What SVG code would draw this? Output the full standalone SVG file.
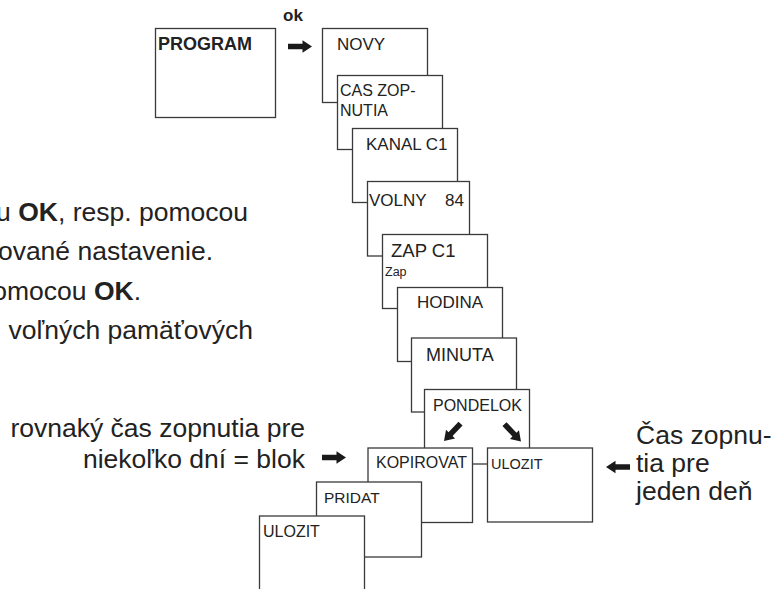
<svg xmlns="http://www.w3.org/2000/svg" xmlns:xlink="http://www.w3.org/1999/xlink" width="779" height="589" viewBox="0 0 779 589">
<style>
  .box { fill: #ffffff; stroke: #3a3a3a; stroke-width: 1.3; }
  .t { font-family: "Liberation Sans", Arial, Helvetica, sans-serif; fill: #222222; }
  .big { font-family: "Liberation Sans", Arial, Helvetica, sans-serif; fill: #222222; font-size: 26.5px; }
  .b { font-weight: bold; }
  .arr { fill: #1a1a1a; }
</style>
<defs>
  <path id="fatArrow" d="M -24,-2.8 L -9.5,-2.8 L -9.5,-6.2 L 0,0 L -9.5,6.2 L -9.5,2.8 L -24,2.8 Z"/>
</defs>
<rect width="779" height="589" fill="#ffffff"/>

<g id="text-left">
  <text class="big" x="248" y="221" text-anchor="end">u <tspan class="b">OK</tspan>, resp. pomocou</text>
  <text class="big" x="213" y="260" text-anchor="end">ované nastavenie.</text>
  <text class="big" x="141" y="300" text-anchor="end">omocou <tspan class="b">OK</tspan>.</text>
  <text class="big" x="253" y="339" text-anchor="end">voľných pamäťových</text>
</g>

<g id="node-program">
  <rect class="box" x="155.5" y="28.5" width="120" height="89"/>
  <text class="t b" x="158" y="50" font-size="18">PROGRAM</text>
</g>
<text class="t b" x="283" y="20.5" font-size="17">ok</text>

<g id="node-novy">
  <rect class="box" x="322.5" y="28.5" width="105" height="74"/>
  <text class="t" x="337" y="50" font-size="17">NOVY</text>
</g>
<g id="node-cas">
  <rect class="box" x="337.5" y="75.5" width="105" height="74"/>
  <text class="t" x="340" y="96" font-size="16">CAS ZOP-</text>
  <text class="t" x="340" y="115.5" font-size="16">NUTIA</text>
</g>
<g id="node-kanal">
  <rect class="box" x="352.5" y="128.5" width="105" height="74"/>
  <text class="t" x="366" y="150" font-size="17">KANAL C1</text>
</g>
<g id="node-volny">
  <rect class="box" x="367.5" y="181.5" width="102" height="74.5"/>
  <text class="t" x="369" y="206" font-size="17">VOLNY<tspan x="445">84</tspan></text>
</g>
<g id="node-zap">
  <rect class="box" x="382.5" y="234.5" width="105" height="74"/>
  <text class="t" x="391" y="256.5" font-size="18.5">ZAP C1</text>
  <text class="t" x="385" y="276" font-size="12.5">Zap</text>
</g>
<g id="node-hodina">
  <rect class="box" x="397.5" y="287.5" width="105" height="74"/>
  <text class="t" x="417" y="308" font-size="17">HODINA</text>
</g>
<g id="node-minuta">
  <rect class="box" x="411.5" y="338" width="105" height="74"/>
  <text class="t" x="426" y="361" font-size="18">MINUTA</text>
</g>
<g id="node-pondelok">
  <rect class="box" x="424.5" y="389.5" width="105" height="74.5"/>
  <text class="t" x="433" y="410.7" font-size="16">PONDELOK</text>
</g>
<g id="node-ulozit-right">
  <rect class="box" x="487.5" y="448" width="105" height="74"/>
  <text class="t" x="491" y="469" font-size="14.5">ULOZIT</text>
</g>
<g id="node-kopirovat">
  <rect class="box" x="368" y="448" width="104.5" height="74.5"/>
  <text class="t" x="376" y="468.3" font-size="16">KOPIROVAT</text>
</g>
<g id="node-pridat">
  <rect class="box" x="316.5" y="482" width="105" height="75"/>
  <text class="t" x="324" y="502.7" font-size="15.5">PRIDAT</text>
</g>
<g id="node-ulozit-left">
  <rect class="box" x="259.5" y="516" width="105" height="80"/>
  <text class="t" x="263" y="537.3" font-size="16">ULOZIT</text>
</g>

<g id="text-block">
  <text class="big" x="305" y="437" text-anchor="end">rovnaký čas zopnutia pre</text>
  <text class="big" x="305" y="468" text-anchor="end">niekoľko dní = blok</text>
</g>
<g id="text-day">
  <text class="big" x="636" y="444">Čas zopnu-</text>
  <text class="big" x="636" y="472">tia pre</text>
  <text class="big" x="636" y="500">jeden deň</text>
</g>

<g id="connectors">
  <use xlink:href="#fatArrow" class="arr" transform="translate(312,46.5)"/>
  <use xlink:href="#fatArrow" class="arr" transform="translate(346,457.5)"/>
  <use xlink:href="#fatArrow" class="arr" transform="translate(606,467) rotate(180)"/>
  <use xlink:href="#fatArrow" class="arr" transform="translate(444,441) rotate(133.5)"/>
  <use xlink:href="#fatArrow" class="arr" transform="translate(521,441.5) rotate(46.5)"/>
</g>
</svg>
